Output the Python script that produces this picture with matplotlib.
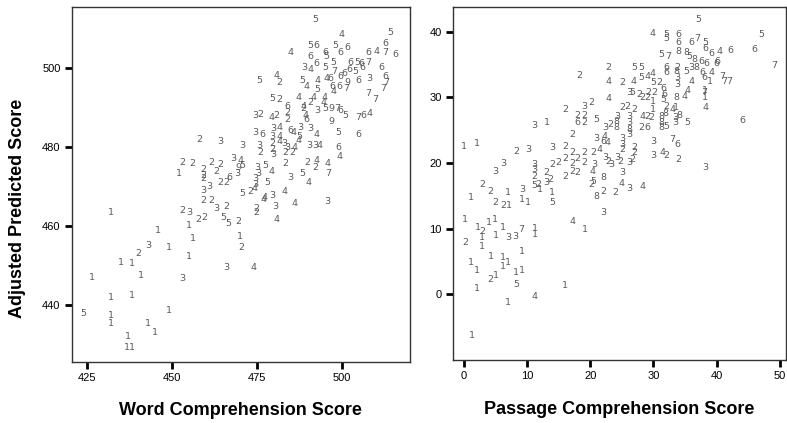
import matplotlib
matplotlib.use("Agg")
import matplotlib.pyplot as plt

# ---- Left panel: Word Comprehension Score vs Adjusted Predicted Score ----
word_labels = [
    "5","4","5","5","6","5","6","6","4","6","6","5","6","5","6","4","6","7","6",
    "3","4","5","7","6","5","6","7","6","6","6","5","6","6","3","6","9","6","4","6","4","5","4",
    "5","4","2","7","7","6","7","4","6","5","4","7","7","5","2","4","2","4","4","2","3","4","5",
    "9","7","6","5","7","6","4","6","2","3","2","2","4","2","9","4","6","5","6","3","6","3","4",
    "6","3","3","4","5","4","4","3","2","4","3","3","4","4","3","3","2","2","3","2","3","4","2",
    "6","4","2","4","2","4","7","3","5","4","2","3","5","4","5","3","4","3","4","3",
    "2","3","3","2","2","1","2","2","2","2","3","4","5","9","2","2","2","6","3","3","5","2",
    "2","3","3","3","4","4","3","4","2","2","3","2","5","5","2","2","3","2","2","1","1",
    "2","2","4","1","1","2","3","1","1","1","2","1","1","1","1","3","3","4","1","1","5",
    "1","1","1","1","1","1","1","1",
]
word_x = [
    492.1,500.0,514.2,490.9,492.7,498.0,499.5,501.8,485.1,490.9,495.3,495.6,492.7,497.4,508.0,510.3,513.0,512.7,515.9,
    488.9,490.9,495.3,497.7,502.7,504.5,505.9,507.7,511.8,502.4,500.9,503.9,506.2,513.0,508.0,505.0,501.8,499.5,495.6,496.8,493.0,488.3,489.8,
    475.9,480.9,481.8,512.1,513.0,499.2,501.2,497.7,497.4,492.7,495.1,507.7,509.8,479.5,481.8,487.4,490.9,491.8,488.9,488.6,492.7,494.8,495.1,
    497.1,498.6,499.5,501.2,504.8,506.5,508.3,483.9,483.9,474.5,476.2,480.9,479.5,483.9,497.1,489.5,489.5,498.9,504.8,474.5,476.8,479.8,481.8,
    484.8,487.7,490.9,485.9,487.4,492.7,481.8,479.5,479.5,481.8,490.6,492.1,493.6,487.4,483.0,475.9,476.2,479.5,479.8,483.3,483.9,486.2,485.6,
    498.9,499.5,489.8,492.7,492.1,495.9,495.9,484.8,488.3,490.1,483.3,475.1,477.4,479.5,478.0,475.4,483.3,479.5,477.4,495.9,
    458.0,464.2,470.9,453.0,456.2,452.1,461.8,464.2,459.2,463.0,468.0,470.1,470.9,469.5,459.2,464.2,466.2,467.1,459.2,461.0,470.9,473.0,
    459.2,469.2,474.5,474.5,474.5,477.1,480.6,486.2,459.2,461.8,463.0,466.2,465.1,466.8,469.5,453.0,455.1,457.7,459.5,455.1,445.9,
    474.8,474.8,480.9,456.2,470.1,470.6,443.0,449.2,455.1,432.1,440.1,435.1,438.3,426.5,441.0,453.0,466.2,474.2,432.1,438.3,423.9,
    432.1,432.1,449.2,443.0,445.1,437.1,436.8,438.3,
]
word_y = [
    512.3,508.5,509.2,505.7,505.7,505.7,503.9,505.2,503.9,502.9,503.9,502.9,501.3,501.6,503.9,504.4,506.2,504.1,503.4,
    500.1,499.6,500.3,499.3,501.6,501.6,501.3,501.6,500.3,499.6,498.8,499.1,500.1,498.0,497.5,496.8,496.3,497.8,497.5,497.3,496.8,497.0,495.5,
    496.8,498.3,496.3,495.0,496.3,495.5,495.0,494.0,495.3,494.5,492.7,493.7,492.2,492.4,492.2,492.7,491.4,492.5,490.2,489.9,489.4,491.2,489.9,
    489.9,489.9,489.2,488.1,487.6,488.1,488.6,490.2,488.9,488.1,488.4,488.1,487.4,486.9,486.6,488.1,486.9,483.8,483.3,483.8,483.1,484.8,485.1,
    484.3,485.1,484.8,483.6,482.6,483.1,482.6,482.6,481.0,481.3,480.5,480.3,480.5,481.8,481.0,480.3,478.5,479.3,478.0,478.5,479.8,479.8,478.5,
    479.8,477.5,476.2,476.7,474.9,475.9,473.4,472.4,473.2,470.9,475.9,474.9,475.4,473.9,471.1,473.4,468.6,467.8,467.3,466.3,
    482.0,481.3,480.3,476.2,475.9,473.4,476.2,475.7,474.2,473.9,477.0,476.7,475.2,474.7,471.9,471.1,470.9,472.4,469.1,469.9,468.3,468.6,
    472.9,473.4,472.1,470.4,469.6,466.8,465.0,465.8,466.5,466.5,464.3,464.8,462.2,460.7,461.0,464.0,463.5,461.7,462.2,460.0,458.9,
    464.5,463.3,461.7,456.9,457.2,454.6,454.9,454.4,452.3,463.3,453.1,450.8,450.5,447.0,447.5,446.7,449.3,449.3,441.9,442.2,437.8,
    437.3,435.3,438.6,435.3,432.8,431.8,429.0,429.0,
]

# ---- Right panel: Passage Comprehension Score vs Adjusted Predicted Score ----
pass_labels = [
    "5","5","6","7","6","4","6","7","7","7","6","3","5","2","3","4","3","2","4","3","4","3","7","6",
    "1","1","4","4","5","5","6","6","6","7","5","6","6","5","7","8","8","5","8","6","6","6",
    "2","5","5","4","2","4","5","4","4","6","6","2","8","3","5","3","8","6","6","4","1",
    "5","2","6","3","4","4","3","5","2","2","2","2","2","6","5","1","1","2","8","8","1","8","4","7",
    "4","2","2","2","3","2","5","3","8","8","3","3","8","3","4","2","2","2","6","8","8","8","5",
    "4","3","3","3","6","4","3","3","2","2","2","2","2","2","2","3","3","2","3","3","2","3","2",
    "2","2","2","6","2","2","3","2","4","2","3","1","1","1","2","3","3","2","2","3","3","3","3",
    "2","2","2","2","2","2","2","2","2","2","2","3","5","2","1","2","2","1",
    "3","8","4","5","4","2","8","1","5","2","3","4",
    "1","1","2","2","1","1","1","1","1","2","1","1","1","1","1","1","3","3","7","1","1","2",
    "1","1","1","1","1","1","1","1","1","2","1","1","5","4","1","1","1",
]
pass_x = [
    37.1,47.1,46.0,49.1,42.2,40.5,40.1,40.9,41.2,42.0,44.1,38.2,35.3,34.0,29.9,31.4,25.0,23.9,25.0,26.2,28.3,29.9,33.0,33.8,
    38.2,38.2,38.2,29.9,32.1,32.1,34.0,34.0,36.0,37.0,38.2,38.2,39.2,31.3,32.4,34.0,35.2,35.7,36.5,37.6,38.4,40.0,
    22.9,27.0,28.1,22.9,25.0,26.9,28.1,29.1,29.9,32.1,32.1,33.8,33.7,33.8,35.2,36.0,36.8,37.8,38.1,39.2,38.9,
    29.9,31.0,31.6,33.7,35.4,36.0,26.2,26.7,27.8,28.3,29.1,29.2,30.2,31.8,31.5,29.9,29.9,32.1,31.9,33.7,33.5,34.1,34.9,38.1,
    22.9,25.0,25.9,27.0,19.1,20.2,21.0,24.2,24.2,24.2,26.2,26.2,26.2,26.2,28.3,29.1,29.7,28.1,29.1,31.3,31.3,31.3,32.1,
    33.0,33.4,33.4,21.0,22.0,22.8,25.0,25.0,25.0,27.0,27.0,32.1,19.1,20.4,19.1,20.7,22.3,22.8,23.4,24.3,24.7,26.2,26.7,
    18.2,16.0,18.0,18.0,19.1,19.1,22.3,23.1,22.3,17.2,11.2,13.1,0.0,2.1,8.2,10.1,13.9,16.0,17.2,4.9,6.2,11.2,11.2,
    11.2,13.9,14.9,16.0,17.2,18.0,16.0,17.1,18.0,13.1,13.6,13.1,11.2,11.7,12.0,2.9,4.1,7.0,9.2,
    22.0,20.4,20.4,21.5,22.0,21.0,13.9,13.9,20.2,22.1,17.2,19.1,
    1.1,4.9,6.2,7.1,9.2,10.1,0.2,2.2,2.9,4.0,4.9,6.2,5.1,2.9,2.9,7.0,8.1,9.0,11.2,11.2,0.2,9.2,
    4.3,6.2,6.2,7.0,1.1,2.1,8.2,9.2,4.1,5.1,2.1,8.2,11.2,16.0,7.0,1.3,0.2,
]
pass_y = [
    41.9,39.6,37.2,34.9,37.1,36.9,35.4,33.1,32.4,32.4,26.4,19.3,26.1,20.6,21.1,21.6,18.5,15.5,16.9,16.1,16.4,23.2,23.5,22.8,
    31.1,29.9,28.4,39.7,39.5,38.9,39.5,38.3,38.4,38.9,38.4,37.5,36.6,36.5,36.2,36.9,36.8,36.2,35.7,35.4,35.2,35.2,
    34.5,34.5,34.6,32.4,32.2,32.4,33.0,33.1,33.6,34.6,33.7,34.6,33.9,33.0,33.9,34.6,34.5,33.7,33.0,33.7,32.4,
    32.2,32.2,31.4,31.9,31.1,32.4,30.7,30.8,30.4,29.9,29.9,30.7,30.7,30.4,29.6,29.3,28.1,28.6,27.6,29.9,28.4,27.3,30.1,30.8,
    29.8,28.4,28.6,28.1,28.6,29.2,26.6,27.0,26.3,25.4,27.0,26.1,25.1,24.3,27.0,27.0,26.9,25.4,25.4,27.0,26.1,25.4,25.5,
    28.1,26.9,26.1,23.8,23.2,23.1,23.8,22.8,22.0,22.3,21.6,21.1,21.6,21.6,20.0,19.7,20.9,20.2,19.7,20.8,20.2,20.0,20.5,
    33.3,28.2,27.3,26.2,27.3,26.2,25.4,25.8,24.1,24.3,25.7,26.1,22.5,22.9,21.7,22.0,22.3,22.5,21.6,18.7,19.9,19.7,19.0,
    17.9,19.7,20.0,20.7,19.9,20.7,17.9,18.7,18.5,18.5,17.5,17.0,16.6,16.7,15.9,16.7,15.6,15.5,15.9,
    17.8,18.7,17.2,22.0,15.6,14.9,15.5,14.0,16.7,12.4,11.1,9.9,
    14.7,14.0,13.5,13.5,14.4,14.0,11.4,10.2,9.6,10.9,11.4,10.2,9.0,8.6,7.3,8.6,8.8,9.9,10.0,9.1,7.9,6.5,
    5.8,5.6,4.2,4.8,4.8,3.6,3.3,3.6,2.3,2.9,0.9,1.5,-0.3,1.3,-1.2,-6.3,-8.1,
]

word_ticks = [425, 450, 475, 500]
pass_ticks = [0, 10, 20, 30, 40, 50]
word_yticks = [440, 460, 480, 500]
pass_yticks = [0, 10, 20, 30, 40]

W, H = 787, 423
fig = plt.figure(figsize=(W / 100, H / 100), dpi=100)
ax1 = fig.add_axes([71.7 / W, 1 - 361.7 / H, (410 - 71.7) / W, (361.7 - 7.3) / H])
ax2 = fig.add_axes([452.7 / W, 1 - 360 / H, (786 - 452.7) / W, (360 - 7.3) / H])

pt_color = "#5a5a5a"
for ax, xs, ys, labs in [(ax1, word_x, word_y, word_labels),
                         (ax2, pass_x, pass_y, pass_labels)]:
    for x, y, s in zip(xs, ys, labs):
        ax.text(x, y, s, fontsize=6.8, color=pt_color, ha="center", va="center",
                family="DejaVu Sans")
    for sp in ax.spines.values():
        sp.set_color("#333333")
        sp.set_linewidth(1.0)
    ax.tick_params(axis="both", direction="out", length=5, width=2, color="black",
                   labelsize=8, pad=3)

ax1.set_xlim(420.6, 520.1)
ax1.set_ylim(425.5, 515.5)
ax1.set_xticks(word_ticks)
ax1.set_yticks(word_yticks)
ax2.set_xlim(-1.8, 51.0)
ax2.set_ylim(-10.0, 43.7)
ax2.set_xticks(pass_ticks)
ax2.set_yticks(pass_yticks)
for ax in (ax1, ax2):
    for lab in ax.get_xticklabels() + ax.get_yticklabels():
        lab.set_family("Liberation Sans")
        lab.set_fontsize(8)

lab_kw = dict(fontsize=13, fontweight="bold", family="Liberation Sans")
ax1.set_xlabel("Word Comprehension Score", labelpad=14, **lab_kw)
ax2.set_xlabel("Passage Comprehension Score", labelpad=14, **lab_kw)
fig.text(18 / W, 1 - 208 / H, "Adjusted Predicted Score", rotation=90,
         ha="center", va="center", **lab_kw)

fig.savefig("out.png", dpi=100)
